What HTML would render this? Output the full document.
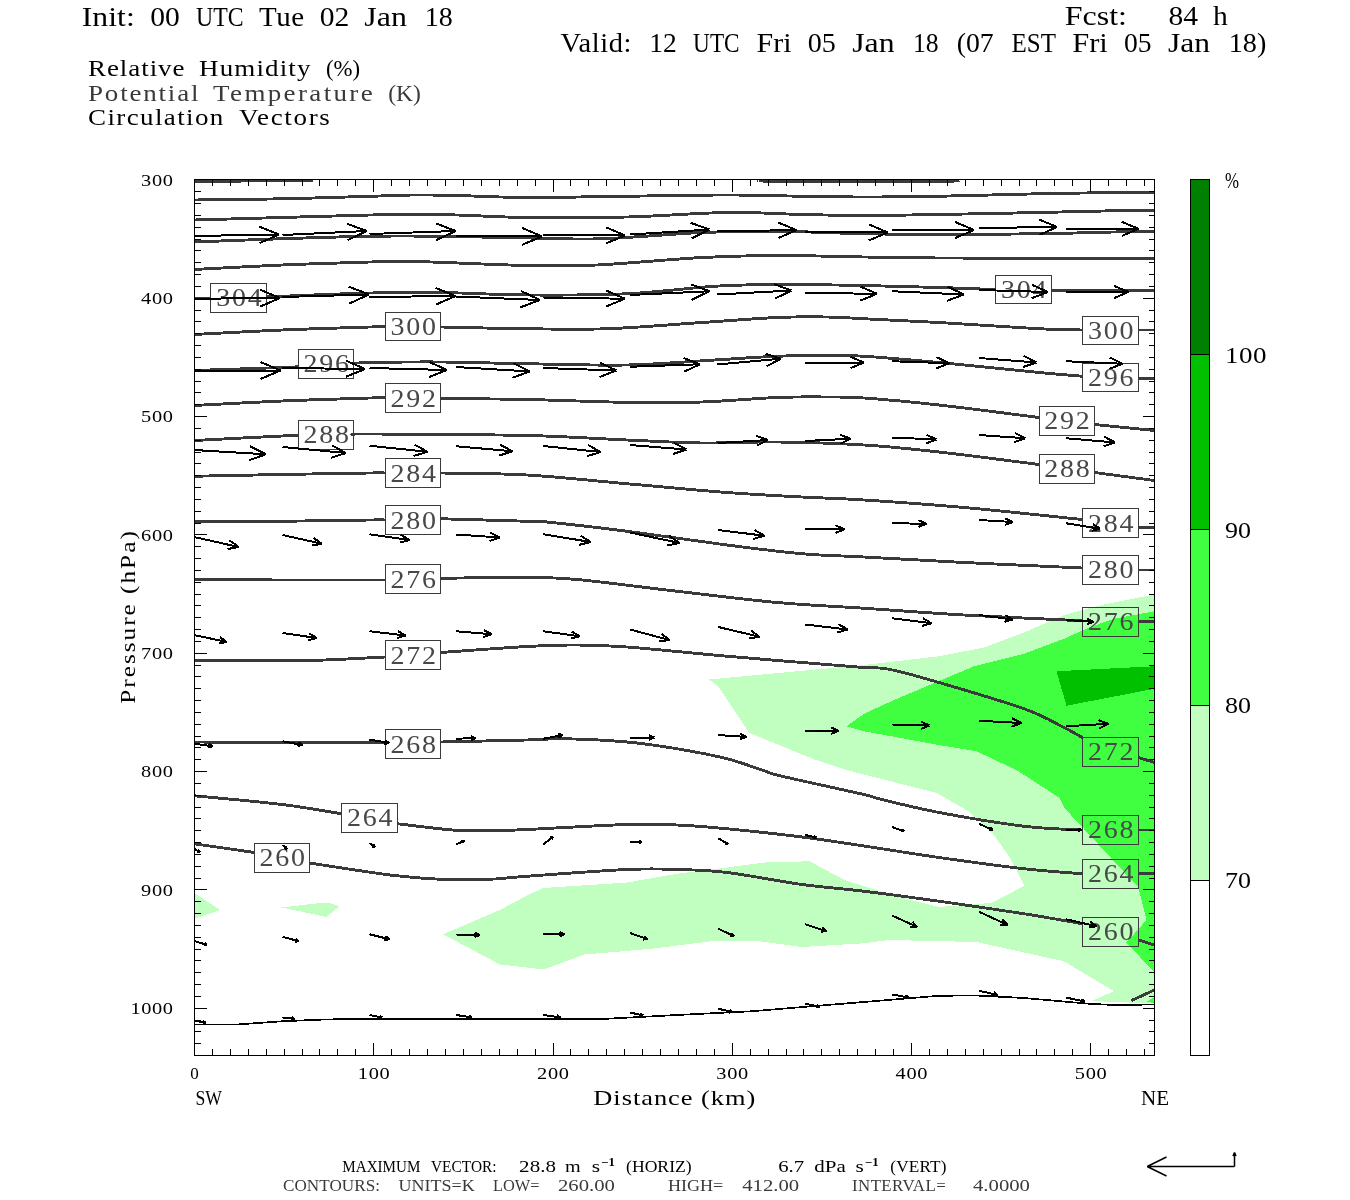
<!DOCTYPE html>
<html lang="en">
<head>
<meta charset="utf-8">
<title>Cross section: Relative Humidity, Potential Temperature, Circulation Vectors</title>
<style>
html,body{margin:0;padding:0;background:#fff;}
body{width:1350px;height:1200px;overflow:hidden;}
svg{display:block;font-family:"Liberation Serif",serif;will-change:transform;}
</style>
</head>
<body>
<svg width="1350" height="1200" viewBox="0 0 1350 1200">
<defs><clipPath id="pc"><rect x="194.5" y="179.5" width="960" height="875.5"/></clipPath></defs>
<rect width="1350" height="1200" fill="#fff"/>
<g clip-path="url(#pc)" shape-rendering="crispEdges">
<polygon fill="#c0ffc0" points="709,679.5 864,665 939,656.25 984,647.5 1024,632.5 1064,615 1101.5,605 1154.5,594.5 1154.5,1003.5 1091.5,1001 1114,991.25 1064,961.25 976.5,942 889,940 864,943.25 802,947 759.5,941.25 714.5,940.75 652,948.75 584.5,954.5 543.25,969.5 527,967.5 500,964.5 443,934.25 500,910 527,895.5 543.25,888 627,882.5 677,873.75 727,867.5 764.5,862.5 809.5,861.25 844.5,880 864,886.25 901.5,897.5 939,907 991.3,902.9 1024.5,885.9 1010,857.8 993,833.9 969.2,811.8 936.8,793 864,774.5 847,770 814.5,759.5 749.5,733 718.25,686.25"/>
<polygon fill="#c0ffc0" points="194,892.5 220,910 194,918.75"/>
<polygon fill="#c0ffc0" points="282,907.5 320,903 330,903 339.25,906.25 326.25,917"/>
<polygon fill="#40ff40" points="846.5,726.25 864,713.75 894,700 974,666.25 1024,653.75 1064,638.75 1089,627.5 1114,618.75 1154.5,611.25 1154.5,972.5 1126.5,942.5 1146.5,920 1138.5,887.5 1064,807.5 1059,797.5 1016.5,770 976.5,751.25 939,745 864,731.25"/>
<polygon fill="#40ff40" points="1146.5,1002 1154.5,997 1154.5,1003"/>
<polygon fill="#00c000" points="1056.5,671.25 1154.5,666.25 1154.5,688.75 1066.5,705.75"/>
</g>
<g clip-path="url(#pc)" fill="none" stroke="#3a3a3a" stroke-width="2.9" stroke-linejoin="round" shape-rendering="crispEdges">
<path d="M194 181.6C201.48 181.58 230.18 181.67 238 181.5C245.82 181.33 227.25 180.82 240 180.6C252.75 180.38 300.59 180.27 313 180.2"/>
<path d="M759.5 180.5C759.59 180.5 755.92 180.33 760 180.5C764.08 180.67 753.66 181.33 783.5 181.5C813.34 181.67 905.58 181.67 935.5 181.5C965.42 181.33 955.42 180.67 959.5 180.5"/>
<path d="M194 200C208.96 199.8 252.08 199.43 282 198.8C311.92 198.17 347.39 196.95 370 196.3C392.61 195.65 400.21 195.14 415 195C429.79 194.86 437.96 195.07 457 195.5C476.04 195.93 498.1 197.37 527 197.5C555.9 197.63 593 196.68 627 196.25C661 195.82 697.25 195 727 195C756.75 195 778.71 195.91 802 196.25C825.29 196.59 840.71 197 864 197C887.29 197 909.25 196.8 939 196.25C968.75 195.7 1009.25 194.39 1039 193.75C1068.75 193.11 1094.37 192.71 1114 192.5C1133.63 192.29 1147.62 192.5 1154.5 192.5"/>
<path d="M194 220C208.96 219.57 252.08 218.35 282 217.5C311.92 216.65 347.39 215.51 370 215C392.61 214.49 400.21 214.5 415 214.5C429.79 214.5 437.96 214.49 457 215C476.04 215.51 498.1 217.16 527 217.5C555.9 217.84 593 217.85 627 217C661 216.15 697.25 212.93 727 212.5C756.75 212.07 778.71 213.99 802 214.5C825.29 215.01 840.71 215.5 864 215.5C887.29 215.5 909.25 215.01 939 214.5C968.75 213.99 1009.25 213.14 1039 212.5C1068.75 211.86 1094.37 211.05 1114 210.75C1133.63 210.45 1147.62 210.75 1154.5 210.75"/>
<path d="M194 242C208.96 241.45 252.08 239.73 282 238.75C311.92 237.77 343.14 236.68 370 236.25C396.86 235.82 413.31 235.95 440 236.25C466.69 236.55 499.46 237.57 527 238C554.54 238.43 572.25 239.69 602 238.75C631.75 237.81 672.25 233.78 702 232.5C731.75 231.22 749.46 231.04 777 231.25C804.54 231.46 836.46 233.2 864 233.75C891.54 234.3 909.25 234.5 939 234.5C968.75 234.5 1009.25 234.18 1039 233.75C1068.75 233.32 1094.37 232.43 1114 232C1133.63 231.57 1147.62 231.38 1154.5 231.25"/>
<path d="M194 269.5C208.96 268.74 252.08 266.27 282 265C311.92 263.73 347.39 262.6 370 262C392.61 261.4 388.31 260.9 415 261.5C441.69 262.1 496.06 264.9 527 265.5C557.94 266.1 567.25 266.36 597 265C626.75 263.64 671.4 259.12 702 257.5C732.6 255.88 749.46 255.59 777 255.5C804.54 255.41 836.46 256.57 864 257C891.54 257.43 909.25 257.79 939 258C968.75 258.21 1002.37 258.21 1039 258.25C1075.63 258.29 1134.87 258.25 1154.5 258.25"/>
<path d="M194 298.75L210.5 298.3"/>
<path d="M266.75 296.7C269.34 296.62 264.45 296.88 282 296.25C299.55 295.62 343.14 293.64 370 293C396.86 292.36 413.31 292.16 440 292.5C466.69 292.84 495.21 294.79 527 295C558.79 295.21 595.12 295.24 627 293.75C658.88 292.26 689 287.82 714.5 286.25C740 284.68 751.59 284.63 777 284.5C802.41 284.37 836.46 284.99 864 285.5C891.54 286.01 916.69 286.82 939 287.5C961.31 288.18 985.69 289.16 995.25 289.5"/>
<path d="M1051.5 290.5L1154.5 290.75"/>
<path d="M194 334.5C208.96 333.74 252.08 331.27 282 330C311.92 328.73 352.49 327.54 370 327C387.51 326.46 382.45 326.83 385 326.8"/>
<path d="M440.75 327C455.41 327.3 498.74 328.45 527 328.75C555.26 329.05 577.25 329.81 607 328.75C636.75 327.69 673.1 324.41 702 322.5C730.9 320.59 755.75 318.44 777 317.5C798.25 316.56 812.21 316.79 827 317C841.79 317.21 844.96 317.81 864 318.75C883.04 319.69 909.25 320.8 939 322.5C968.75 324.2 1014.65 327.48 1039 328.75C1063.35 330.02 1074.9 329.79 1082.25 330"/>
<path d="M1138.5 330L1154.5 330"/>
<path d="M194 370.5C208.96 369.99 264.32 368.13 282 367.5C299.68 366.87 295.28 366.92 298 366.8"/>
<path d="M353.75 363.5C356.51 363.33 355.34 362.75 370 362.5C384.66 362.25 413.31 361.79 440 362C466.69 362.21 495.21 363.24 527 363.75C558.79 364.26 595.12 365.64 627 365C658.88 364.36 689 361.49 714.5 360C740 358.51 757.88 357.01 777 356.25C796.12 355.49 812.21 355.5 827 355.5C841.79 355.5 844.96 355.06 864 356.25C883.04 357.44 909.25 359.74 939 362.5C968.75 365.26 1014.65 370.16 1039 372.5C1063.35 374.84 1074.9 375.61 1082.25 376.25"/>
<path d="M1138.5 378.75L1154.5 378.75"/>
<path d="M194 405.5C208.96 404.74 252.08 402.27 282 401C311.92 399.73 352.49 398.54 370 398C387.51 397.46 382.45 397.83 385 397.8"/>
<path d="M440.75 398.5C455.41 398.67 494.49 398.82 527 399.5C559.51 400.18 602.25 402.07 632 402.5C661.75 402.93 677.35 402.85 702 402C726.65 401.15 755.75 398.35 777 397.5C798.25 396.65 812.21 396.92 827 397C841.79 397.08 844.96 396.64 864 398C883.04 399.36 909.25 401.69 939 405C968.75 408.31 1022 415.38 1039 417.5"/>
<path d="M1094.5 424.5L1154.5 430.5"/>
<path d="M194 440.5C208.96 439.74 264.32 436.85 282 436C299.68 435.15 295.28 435.58 298 435.5"/>
<path d="M353.75 434.5C356.51 434.42 340.55 433.83 370 434C399.45 434.17 483.31 434.48 527 435.5C570.69 436.52 597.25 438.73 627 440C656.75 441.27 676.5 442.66 702 443C727.5 443.34 749.46 441.66 777 442C804.54 442.34 836.46 443.3 864 445C891.54 446.7 909.25 448.69 939 452C968.75 455.31 1022 462.38 1039 464.5"/>
<path d="M1094.5 472.5L1154.5 480.5"/>
<path d="M194 476.25C208.96 475.95 252.08 475.05 282 474.5C311.92 473.95 352.49 473.25 370 473C387.51 472.75 382.45 473 385 473"/>
<path d="M441 473C455.62 473.34 495.38 473.17 527 475C558.62 476.83 593 480.77 627 483.75C661 486.73 697.25 490.25 727 492.5C756.75 494.75 778.71 495.73 802 497C825.29 498.27 836.46 498.21 864 500C891.54 501.79 926.9 504.19 964 507.5C1001.1 510.81 1062.15 517.46 1082.25 519.5"/>
<path d="M1138.5 527.5L1154.5 527.5"/>
<path d="M194 521.75C208.96 521.66 252.08 521.55 282 521.25C311.92 520.95 352.49 520.21 370 520C387.51 519.79 382.45 520 385 520"/>
<path d="M440.75 518.75C455.41 519.17 508.94 520.7 527 521.25C545.06 521.8 530 520.3 547 522C564 523.7 596.4 527.34 627 531.25C657.6 535.16 697.25 541.17 727 545C756.75 548.83 778.71 551.71 802 553.75C825.29 555.79 836.46 555.51 864 557C891.54 558.49 926.9 560.63 964 562.5C1001.1 564.37 1062.15 567.07 1082.25 568"/>
<path d="M1138.5 570L1154.5 570"/>
<path d="M194 579.5C208.96 579.59 249.53 579.91 282 580C314.47 580.09 367.49 580 385 580"/>
<path d="M440.75 578.25C455.41 578.12 503.84 577.29 527 577.5C550.16 577.71 551.5 577.16 577 579.5C602.5 581.84 643 587.34 677 591.25C711 595.16 745.21 599.61 777 602.5C808.79 605.39 832.21 606.12 864 608.25C895.79 610.38 926.9 612.88 964 615C1001.1 617.12 1062.15 619.77 1082.25 620.75"/>
<path d="M1138.5 621.25L1154.5 621.25"/>
<path d="M194 660.5C208.96 660.5 259.73 660.59 282 660.5C304.27 660.41 307.49 660.6 325 660C342.51 659.4 374.8 657.51 385 657"/>
<path d="M440.75 652.5C455.41 651.48 503.84 647.77 527 646.5C550.16 645.23 560 644.91 577 645C594 645.09 601.5 645.09 627 647C652.5 648.91 697.25 653.62 727 656.25C756.75 658.88 778.71 660.59 802 662.5C825.29 664.41 849.21 666.35 864 667.5C878.79 668.65 876.25 666.7 889 669.25C901.75 671.8 916.05 675.78 939 682.5C961.95 689.22 1002.75 701.1 1024 708.75C1045.25 716.4 1054.1 722.61 1064 727.5C1073.9 732.39 1079.15 735.8 1082.25 737.5"/>
<path d="M1138.5 757.5L1154.5 762.5"/>
<path d="M194 742C208.96 742.09 249.53 742.41 282 742.5C314.47 742.59 367.49 742.5 385 742.5"/>
<path d="M440.75 742C455.41 741.66 505.96 740.55 527 740C548.04 739.45 547.5 738.41 564.5 738.75C581.5 739.09 607.88 740.3 627 742C646.12 743.7 660 745.9 677 748.75C694 751.6 712.55 755.14 727 758.75C741.45 762.36 752.65 767.02 762 770C771.35 772.98 764.66 772.09 782 776.25C799.34 780.41 847.51 790.67 864 794.5C880.49 798.33 866.25 795.69 879 798.75C891.75 801.81 914.35 807.83 939 812.5C963.65 817.17 999.65 823.27 1024 826.25C1048.35 829.23 1072.35 829.36 1082.25 830"/>
<path d="M1138.5 830L1154.5 830"/>
<path d="M194 795.75C208.96 797.24 256.97 801.44 282 804.5C307.03 807.56 331.18 812.18 341.25 813.75"/>
<path d="M397.5 823.75C406.85 824.81 436.77 828.81 452.5 830C468.23 831.19 477.33 830.84 490 830.75C502.67 830.66 503.71 830.56 527 829.5C550.29 828.44 601.5 825.26 627 824.5C652.5 823.74 660 824.28 677 825C694 825.72 705.75 826.71 727 828.75C748.25 830.79 778.71 834.07 802 837C825.29 839.93 840.71 842.51 864 846C887.29 849.49 911.8 853.63 939 857.5C966.2 861.37 999.65 865.99 1024 868.75C1048.35 871.51 1072.35 872.9 1082.25 873.75"/>
<path d="M1138.5 873.75L1154.5 873.75"/>
<path d="M194 843.75L254.5 852.5"/>
<path d="M309.5 863C323.19 865.04 367.81 872.24 390 875C412.19 877.76 423 878.53 440 879.25C457 879.97 475.21 879.76 490 879.25C504.79 878.74 503.71 877.91 527 876.25C550.29 874.59 601.5 870.65 627 869.5C652.5 868.35 660 868.99 677 869.5C694 870.01 705.75 869.95 727 872.5C748.25 875.05 778.71 881.31 802 884.5C825.29 887.69 840.71 888.4 864 891.25C887.29 894.1 911.8 897.42 939 901.25C966.2 905.08 999.65 909.92 1024 913.75C1048.35 917.58 1072.35 922.05 1082.25 923.75"/>
<path d="M1138.5 940L1154.5 945"/>
<path d="M1131.5 1000.5L1154.5 990"/>
</g>
<polyline clip-path="url(#pc)" fill="none" stroke="#000" stroke-width="1.7" shape-rendering="crispEdges" points="194,1024.5 237.5,1024.5 282.5,1021.25 325,1019.5 370,1018.75 527,1019.25 607,1018.75 677,1015 752,1011.25 827,1005 864,1002 939,995.75 976.5,995.5 1024,998 1089,1003.75 1114,1005 1154.5,1004.5"/>
<g font-size="25" fill="#484848" text-anchor="middle">
<rect x="210.5" y="283.5" width="56" height="29" fill="none" stroke="#3a3a3a" stroke-width="1" shape-rendering="crispEdges"/>
<text transform="translate(238.93 306.38) scale(1.12 1)" textLength="40.6" lengthAdjust="spacing">304</text>
<rect x="995.5" y="275.5" width="56" height="28" fill="none" stroke="#3a3a3a" stroke-width="1" shape-rendering="crispEdges"/>
<text transform="translate(1023.67 298) scale(1.12 1)" textLength="40.6" lengthAdjust="spacing">304</text>
<rect x="385.5" y="312.5" width="55" height="28" fill="none" stroke="#3a3a3a" stroke-width="1" shape-rendering="crispEdges"/>
<text transform="translate(413.18 335.12) scale(1.12 1)" textLength="40.6" lengthAdjust="spacing">300</text>
<rect x="1082.5" y="316.5" width="56" height="28" fill="none" stroke="#3a3a3a" stroke-width="1" shape-rendering="crispEdges"/>
<text transform="translate(1110.67 338.75) scale(1.12 1)" textLength="40.6" lengthAdjust="spacing">300</text>
<rect x="298.5" y="349.5" width="55" height="29" fill="none" stroke="#3a3a3a" stroke-width="1" shape-rendering="crispEdges"/>
<text transform="translate(326.18 371.75) scale(1.12 1)" textLength="40.6" lengthAdjust="spacing">296</text>
<rect x="1082.5" y="363.5" width="56" height="28" fill="none" stroke="#3a3a3a" stroke-width="1" shape-rendering="crispEdges"/>
<text transform="translate(1110.67 385.88) scale(1.12 1)" textLength="40.6" lengthAdjust="spacing">296</text>
<rect x="385.5" y="383.5" width="55" height="29" fill="none" stroke="#3a3a3a" stroke-width="1" shape-rendering="crispEdges"/>
<text transform="translate(413.18 406.5) scale(1.12 1)" textLength="40.6" lengthAdjust="spacing">292</text>
<rect x="1039.5" y="406.5" width="55" height="29" fill="none" stroke="#3a3a3a" stroke-width="1" shape-rendering="crispEdges"/>
<text transform="translate(1067.05 429.12) scale(1.12 1)" textLength="40.6" lengthAdjust="spacing">292</text>
<rect x="298.5" y="420.5" width="55" height="29" fill="none" stroke="#3a3a3a" stroke-width="1" shape-rendering="crispEdges"/>
<text transform="translate(326.18 443) scale(1.12 1)" textLength="40.6" lengthAdjust="spacing">288</text>
<rect x="1039.5" y="454.5" width="55" height="29" fill="none" stroke="#3a3a3a" stroke-width="1" shape-rendering="crispEdges"/>
<text transform="translate(1067.05 477.25) scale(1.12 1)" textLength="40.6" lengthAdjust="spacing">288</text>
<rect x="385.5" y="458.5" width="55" height="29" fill="none" stroke="#3a3a3a" stroke-width="1" shape-rendering="crispEdges"/>
<text transform="translate(413.3 481.5) scale(1.12 1)" textLength="40.6" lengthAdjust="spacing">284</text>
<rect x="1082.5" y="508.5" width="56" height="29" fill="none" stroke="#3a3a3a" stroke-width="1" shape-rendering="crispEdges"/>
<text transform="translate(1110.67 531.62) scale(1.12 1)" textLength="40.6" lengthAdjust="spacing">284</text>
<rect x="385.5" y="505.5" width="55" height="29" fill="none" stroke="#3a3a3a" stroke-width="1" shape-rendering="crispEdges"/>
<text transform="translate(413.18 528.5) scale(1.12 1)" textLength="40.6" lengthAdjust="spacing">280</text>
<rect x="1082.5" y="555.5" width="56" height="29" fill="none" stroke="#3a3a3a" stroke-width="1" shape-rendering="crispEdges"/>
<text transform="translate(1110.67 577.88) scale(1.12 1)" textLength="40.6" lengthAdjust="spacing">280</text>
<rect x="385.5" y="564.5" width="55" height="29" fill="none" stroke="#3a3a3a" stroke-width="1" shape-rendering="crispEdges"/>
<text transform="translate(413.18 587.5) scale(1.12 1)" textLength="40.6" lengthAdjust="spacing">276</text>
<rect x="1082.5" y="607.5" width="56" height="29" fill="none" stroke="#3a3a3a" stroke-width="1" shape-rendering="crispEdges"/>
<text transform="translate(1110.67 630.38) scale(1.12 1)" textLength="40.6" lengthAdjust="spacing">276</text>
<rect x="385.5" y="640.5" width="55" height="29" fill="none" stroke="#3a3a3a" stroke-width="1" shape-rendering="crispEdges"/>
<text transform="translate(413.18 663.5) scale(1.12 1)" textLength="40.6" lengthAdjust="spacing">272</text>
<rect x="1082.5" y="737.5" width="56" height="29" fill="none" stroke="#3a3a3a" stroke-width="1" shape-rendering="crispEdges"/>
<text transform="translate(1110.67 759.88) scale(1.12 1)" textLength="40.6" lengthAdjust="spacing">272</text>
<rect x="385.5" y="729.5" width="55" height="29" fill="none" stroke="#3a3a3a" stroke-width="1" shape-rendering="crispEdges"/>
<text transform="translate(413.18 752.62) scale(1.12 1)" textLength="40.6" lengthAdjust="spacing">268</text>
<rect x="1082.5" y="815.5" width="56" height="29" fill="none" stroke="#3a3a3a" stroke-width="1" shape-rendering="crispEdges"/>
<text transform="translate(1110.67 838.38) scale(1.12 1)" textLength="40.6" lengthAdjust="spacing">268</text>
<rect x="341.5" y="803.5" width="56" height="29" fill="none" stroke="#3a3a3a" stroke-width="1" shape-rendering="crispEdges"/>
<text transform="translate(369.68 826.38) scale(1.12 1)" textLength="40.6" lengthAdjust="spacing">264</text>
<rect x="1082.5" y="859.5" width="56" height="29" fill="none" stroke="#3a3a3a" stroke-width="1" shape-rendering="crispEdges"/>
<text transform="translate(1110.67 882.38) scale(1.12 1)" textLength="40.6" lengthAdjust="spacing">264</text>
<rect x="254.5" y="843.5" width="55" height="29" fill="none" stroke="#3a3a3a" stroke-width="1" shape-rendering="crispEdges"/>
<text transform="translate(282.3 866.38) scale(1.12 1)" textLength="40.6" lengthAdjust="spacing">260</text>
<rect x="1082.5" y="917.5" width="56" height="29" fill="none" stroke="#3a3a3a" stroke-width="1" shape-rendering="crispEdges"/>
<text transform="translate(1110.67 940.38) scale(1.12 1)" textLength="40.6" lengthAdjust="spacing">260</text>
</g>
<g clip-path="url(#pc)" fill="none" stroke="#000" stroke-width="2" stroke-linecap="butt" shape-rendering="crispEdges">
<path d="M194 236L279 234.5M279 234.5L259.29 226.54M279 234.5L259.59 243.15"/>
<path d="M282.5 235L366.75 231M366.75 231L346.97 223.69M366.75 231L347.75 240.15"/>
<path d="M369.5 234L455.75 231M455.75 231L435.61 223.27M455.75 231L436.19 240.12"/>
<path d="M456 236L542 236.5M542 236.5L522.26 227.98M542 236.5L522.16 244.79"/>
<path d="M543 235L625 235.5M625 235.5L606.18 227.37M625 235.5L606.08 243.39"/>
<path d="M630 234.5L709.5 229.5M709.5 229.5L690.72 222.88M709.5 229.5L691.69 238.42"/>
<path d="M717.5 231.5L796.5 230M796.5 230L778.17 222.63M796.5 230L778.47 238.06"/>
<path d="M805 232L887.75 232.5M887.75 232.5L868.76 224.3M887.75 232.5L868.66 240.47"/>
<path d="M892 230L974 230M974 230L955.13 221.99M974 230L955.13 238.01"/>
<path d="M979 228L1057.25 227M1057.25 227L1039.14 219.59M1057.25 227L1039.34 234.87"/>
<path d="M1066 229.5L1138.5 228.75M1138.5 228.75L1121.74 221.84M1138.5 228.75L1121.89 236"/>
<path d="M194 298.75L280 298M280 298L260.14 289.77M280 298L260.28 306.57"/>
<path d="M282.5 297L369 294.5M369 294.5L348.85 286.63M369 294.5L349.34 303.52"/>
<path d="M369.5 297L455.5 296M455.5 296L435.61 287.83M455.5 296L435.81 304.63"/>
<path d="M456 296.5L540 300M540 300L521.01 290.99M540 300L520.33 307.4"/>
<path d="M543 297.5L625 298.75M625 298.75L606.25 290.45M625 298.75L606.01 306.47"/>
<path d="M630 295L709.5 291.25M709.5 291.25L690.84 284.35M709.5 291.25L691.57 299.88"/>
<path d="M717.5 294.5L791.5 290.5M791.5 290.5L774.08 284.19M791.5 290.5L774.86 298.65"/>
<path d="M805 293L877 293.75M877 293.75L860.5 286.54M877 293.75L860.36 300.61"/>
<path d="M892 291.25L964 294.5M964 294.5L947.75 286.72M964 294.5L947.11 300.79"/>
<path d="M979 290L1047.75 292M1047.75 292L1032.12 284.82M1047.75 292L1031.73 298.26"/>
<path d="M1066 292L1128.5 292M1128.5 292L1114.12 285.89M1128.5 292L1114.12 298.11"/>
<path d="M194 370.5L280.5 370.5M280.5 370.5L260.59 362.05M280.5 370.5L260.59 378.95"/>
<path d="M282.5 368L365 369M365 369L346.11 360.71M365 369L345.92 376.83"/>
<path d="M369.5 368L447 370M447 370L429.36 361.97M447 370L428.97 377.11"/>
<path d="M456 367L530 371.5M530 371.5L513.41 363.24M530 371.5L512.53 377.69"/>
<path d="M543.25 368L616.5 370.5M616.5 370.5L599.89 362.77M616.5 370.5L599.4 377.08"/>
<path d="M630 366.75L700 364.25M700 364.25L683.65 357.99M700 364.25L684.14 371.66"/>
<path d="M717.5 364.5L780.75 358.75M780.75 358.75L765.63 353.89M780.75 358.75L766.76 366.25"/>
<path d="M805 362.5L864 362.5M864 362.5L850.42 356.74M864 362.5L850.42 368.26"/>
<path d="M892 361.25L949.5 363.25M949.5 363.25L936.46 357.17M949.5 363.25L936.07 368.41"/>
<path d="M979 358L1036.5 362.5M1036.5 362.5L1023.71 355.85M1036.5 362.5L1022.83 367.08"/>
<path d="M1066 361.25L1122.75 363.75M1122.75 363.75L1109.93 357.63M1122.75 363.75L1109.45 368.72"/>
<path d="M194 450L266 454.25M266 454.25L249.85 446.24M266 454.25L249.02 460.31"/>
<path d="M282.5 447L346 453M346 453L331.97 445.42M346 453L330.8 457.82"/>
<path d="M369.5 445.75L427.5 451.75M427.5 451.75L414.74 444.7M427.5 451.75L413.57 456.03"/>
<path d="M456 446.25L512.5 451.25M512.5 451.25L499.99 444.58M512.5 451.25L499.01 455.62"/>
<path d="M543.25 446L600.75 452M600.75 452L588.1 445M600.75 452L586.93 456.24"/>
<path d="M630 445L686.5 449.5M686.5 449.5L673.94 442.95M686.5 449.5L673.06 453.98"/>
<path d="M717.5 443L768 440M768 440L756.09 435.76M768 440L756.67 445.62"/>
<path d="M805 441L850.75 438.75M850.75 438.75L840 434.8M850.75 438.75L840.44 443.74"/>
<path d="M892 437.5L936.5 439.5M936.5 439.5L926.45 434.69M936.5 439.5L926.06 443.39"/>
<path d="M979 435L1025.25 438.25M1025.25 438.25L1014.92 432.98M1025.25 438.25L1014.29 442.02"/>
<path d="M1066 438.25L1115.25 442.5M1115.25 442.5L1104.33 436.71M1115.25 442.5L1103.5 446.33"/>
<path d="M194 537L238.75 547M238.75 547L229.43 540.33M238.75 547L227.48 549.07"/>
<path d="M282.5 535L321.75 543.75M321.75 543.75L313.57 537.9M321.75 543.75L311.86 545.57"/>
<path d="M369.5 534.25L409.5 540M409.5 540L400.86 534.77M409.5 540L399.73 542.58"/>
<path d="M456.25 534.5L500 537.5M500 537.5L490.23 532.54M500 537.5L489.64 541.08"/>
<path d="M543.25 534.25L590.75 542M590.75 542L580.58 535.58M590.75 542L579.06 544.86"/>
<path d="M630 532.5L679.5 543M679.5 543L669.13 535.75M679.5 543L667.08 545.42"/>
<path d="M718.25 530L764.5 535.75M764.5 535.75L754.42 529.91M764.5 535.75L753.29 538.94"/>
<path d="M805.25 528.75L844.5 529.25M844.5 529.25L835.52 525.3M844.5 529.25L835.42 532.97"/>
<path d="M892 523.25L926.5 523.75M926.5 523.75L918.61 520.26M926.5 523.75L918.51 527"/>
<path d="M979 520L1012.75 522M1012.75 522L1005.18 518.24M1012.75 522L1004.79 524.84"/>
<path d="M1066 523.25L1100.25 528.75M1100.25 528.75L1092.91 524.14M1100.25 528.75L1091.83 530.83"/>
<path d="M194 635L226.75 642M226.75 642L219.9 637.19M226.75 642L218.53 643.59"/>
<path d="M282.5 633L316.75 638M316.75 638L309.36 633.5M316.75 638L308.38 640.2"/>
<path d="M369.5 631.25L405.75 635.5M405.75 635.5L397.82 630.98M405.75 635.5L396.99 638.06"/>
<path d="M456.25 631.25L491.75 634.25M491.75 634.25L483.87 630.09M491.75 634.25L483.29 637.03"/>
<path d="M543.25 631.25L579.5 636.25M579.5 636.25L571.65 631.56M579.5 636.25L570.67 638.64"/>
<path d="M630 629.5L669.5 640M669.5 640L661.44 633.73M669.5 640L659.38 641.44"/>
<path d="M718.25 627L759.5 636.75M759.5 636.75L750.96 630.48M759.5 636.75L749.05 638.54"/>
<path d="M805.25 624.5L847.75 629.5M847.75 629.5L838.46 624.2M847.75 629.5L837.48 632.5"/>
<path d="M892 618.25L931.5 623.25M931.5 623.25L922.9 618.24M931.5 623.25L921.92 625.96"/>
<path d="M979 615L1012.75 619.5M1012.75 619.5L1005.42 615.17M1012.75 619.5L1004.54 621.76"/>
<path d="M1066 620L1093.5 621.75M1093.5 621.75L1087.34 618.66M1093.5 621.75L1087 624.03"/>
<path d="M194 743.75L212.5 746.25M212.5 746.25L208.49 743.87M212.5 746.25L208 747.48"/>
<path d="M282.5 741.25L302.5 745M302.5 745L298.26 742.18M302.5 745L297.53 746.09"/>
<path d="M369.5 739.5L389.25 743M389.25 743L385.05 740.27M389.25 743L384.36 744.12"/>
<path d="M456.25 738.75L475.5 738M475.5 738L471 736.29M475.5 738L471.14 740.05"/>
<path d="M543.25 738.75L562.75 735M562.75 735L557.9 733.96M562.75 735L558.63 737.77"/>
<path d="M630 738L654.5 737.5M654.5 737.5L648.81 735.22M654.5 737.5L648.91 740.01"/>
<path d="M718.25 735L746.5 737M746.5 737L740.19 733.78M746.5 737L739.8 739.3"/>
<path d="M805.25 730.75L838.75 730.75M838.75 730.75L831.04 727.48M838.75 730.75L831.04 734.02"/>
<path d="M892 724.5L929.5 725.5M929.5 725.5L920.97 721.61M929.5 725.5L920.77 728.93"/>
<path d="M979 720.75L1021.5 723M1021.5 723L1011.94 718.33M1021.5 723L1011.5 726.63"/>
<path d="M1066 726.25L1108.5 723.75M1108.5 723.75L1098.48 720.17M1108.5 723.75L1098.96 728.48"/>
<path d="M194 848.75L200 852M200 852L198.01 849.5M200 852L196.81 851.7"/>
<path d="M282.5 845L287 849M287 849L285.63 846.11M287 849L283.97 847.98"/>
<path d="M369.5 843.25L375 847M375 847L373.27 844.31M375 847L371.86 846.37"/>
<path d="M456.25 844.25L464.5 840.75M464.5 840.75L461.3 840.75M464.5 840.75L462.28 843.05"/>
<path d="M543.25 844.25L553.25 836.75M553.25 836.75L550.14 837.52M553.25 836.75L551.64 839.52"/>
<path d="M630 842L642 842M642 842L639.05 840.75M642 842L639.05 843.25"/>
<path d="M718.25 838.25L728.25 844.25M728.25 844.25L726.37 841.66M728.25 844.25L725.08 843.81"/>
<path d="M805.25 835L816.5 837.5M816.5 837.5L813.9 835.64M816.5 837.5L813.35 838.08"/>
<path d="M892 827L904 831.25M904 831.25L901.64 829.09M904 831.25L900.81 831.45"/>
<path d="M979 823.75L992.75 830M992.75 830L990.2 827.22M992.75 830L988.98 829.9"/>
<path d="M1066 830L1081.5 830M1081.5 830L1077.93 828.49M1081.5 830L1077.93 831.51"/>
<path d="M194 940.75L207 945M207 945L204.42 942.75M207 945L203.59 945.29"/>
<path d="M282.5 936.75L298.75 941.25M298.75 941.25L295.45 938.63M298.75 941.25L294.57 941.8"/>
<path d="M369.5 934.25L389.5 939.25M389.5 939.25L385.39 936.15M389.5 939.25L384.41 940.05"/>
<path d="M456.25 934.5L480 935M480 935L474.58 932.56M480 935L474.49 937.2"/>
<path d="M543.25 934.25L564.5 934.25M564.5 934.25L559.61 932.17M564.5 934.25L559.61 936.33"/>
<path d="M630 933L647.75 939.25M647.75 939.25L644.28 936.08M647.75 939.25L643.05 939.55"/>
<path d="M718.25 928.75L734.5 936.25M734.5 936.25L731.49 932.94M734.5 936.25L730.03 936.11"/>
<path d="M805.25 924.25L826.5 931.25M826.5 931.25L822.29 927.56M826.5 931.25L820.93 931.71"/>
<path d="M892 915.5L917.25 927M917.25 927L912.56 921.89M917.25 927L910.32 926.82"/>
<path d="M979 911.75L1007.75 925M1007.75 925L1002.43 919.14M1007.75 925L999.84 924.76"/>
<path d="M1066 919.25L1096.5 926.25M1096.5 926.25L1090.16 921.66M1096.5 926.25L1088.8 927.62"/>
<path d="M194 1020.75L205.75 1022.5M205.75 1022.5L203.02 1020.83M205.75 1022.5L202.65 1023.3"/>
<path d="M282.5 1017.5L294.5 1018.75M294.5 1018.75L291.7 1017.2M294.5 1018.75L291.44 1019.69"/>
<path d="M369.5 1015L382.5 1017.5M382.5 1017.5L379.75 1015.65M382.5 1017.5L379.26 1018.19"/>
<path d="M456.25 1015L472 1017.5M472 1017.5L468.62 1015.39M472 1017.5L468.13 1018.46"/>
<path d="M543.25 1015L560.75 1017.5M560.75 1017.5L556.97 1015.22M560.75 1017.5L556.48 1018.63"/>
<path d="M630 1012.5L643.25 1015.5M643.25 1015.5L640.49 1013.52M643.25 1015.5L639.91 1016.1"/>
<path d="M718.25 1008.75L732.5 1012M732.5 1012L729.54 1009.86M732.5 1012L728.9 1012.64"/>
<path d="M805.25 1003.75L820 1006.75M820 1006.75L816.9 1004.62M820 1006.75L816.31 1007.5"/>
<path d="M892 994.5L909 997.5M909 997.5L905.38 995.15M909 997.5L904.79 998.47"/>
<path d="M979 990.75L997.75 995M997.75 995L993.85 992.19M997.75 995L993.02 995.85"/>
<path d="M1066 997.5L1085.25 1001.75M1085.25 1001.75L1081.24 998.89M1085.25 1001.75L1080.4 1002.65"/>
</g>
<path d="M194.5 179.5v12M194.5 1055v-12M212.43 179.5v6M212.43 1055v-6M230.35 179.5v6M230.35 1055v-6M248.28 179.5v6M248.28 1055v-6M266.2 179.5v6M266.2 1055v-6M284.12 179.5v6M284.12 1055v-6M302.05 179.5v6M302.05 1055v-6M319.98 179.5v6M319.98 1055v-6M337.9 179.5v6M337.9 1055v-6M355.82 179.5v6M355.82 1055v-6M373.75 179.5v12M373.75 1055v-12M391.68 179.5v6M391.68 1055v-6M409.6 179.5v6M409.6 1055v-6M427.52 179.5v6M427.52 1055v-6M445.45 179.5v6M445.45 1055v-6M463.38 179.5v6M463.38 1055v-6M481.3 179.5v6M481.3 1055v-6M499.23 179.5v6M499.23 1055v-6M517.15 179.5v6M517.15 1055v-6M535.08 179.5v6M535.08 1055v-6M553 179.5v12M553 1055v-12M570.92 179.5v6M570.92 1055v-6M588.85 179.5v6M588.85 1055v-6M606.77 179.5v6M606.77 1055v-6M624.7 179.5v6M624.7 1055v-6M642.62 179.5v6M642.62 1055v-6M660.55 179.5v6M660.55 1055v-6M678.48 179.5v6M678.48 1055v-6M696.4 179.5v6M696.4 1055v-6M714.33 179.5v6M714.33 1055v-6M732.25 179.5v12M732.25 1055v-12M750.17 179.5v6M750.17 1055v-6M768.1 179.5v6M768.1 1055v-6M786.02 179.5v6M786.02 1055v-6M803.95 179.5v6M803.95 1055v-6M821.88 179.5v6M821.88 1055v-6M839.8 179.5v6M839.8 1055v-6M857.73 179.5v6M857.73 1055v-6M875.65 179.5v6M875.65 1055v-6M893.58 179.5v6M893.58 1055v-6M911.5 179.5v12M911.5 1055v-12M929.42 179.5v6M929.42 1055v-6M947.35 179.5v6M947.35 1055v-6M965.27 179.5v6M965.27 1055v-6M983.2 179.5v6M983.2 1055v-6M1001.12 179.5v6M1001.12 1055v-6M1019.05 179.5v6M1019.05 1055v-6M1036.97 179.5v6M1036.97 1055v-6M1054.9 179.5v6M1054.9 1055v-6M1072.83 179.5v6M1072.83 1055v-6M1090.75 179.5v12M1090.75 1055v-12M1108.67 179.5v6M1108.67 1055v-6M1126.6 179.5v6M1126.6 1055v-6M1144.53 179.5v6M1144.53 1055v-6M194.5 179.85h12M1154.5 179.85h-12M194.5 191.69h6M1154.5 191.69h-6M194.5 203.52h6M1154.5 203.52h-6M194.5 215.35h6M1154.5 215.35h-6M194.5 227.19h6M1154.5 227.19h-6M194.5 239.02h6M1154.5 239.02h-6M194.5 250.86h6M1154.5 250.86h-6M194.5 262.69h6M1154.5 262.69h-6M194.5 274.53h6M1154.5 274.53h-6M194.5 286.37h6M1154.5 286.37h-6M194.5 298.2h12M1154.5 298.2h-12M194.5 310.03h6M1154.5 310.03h-6M194.5 321.87h6M1154.5 321.87h-6M194.5 333.7h6M1154.5 333.7h-6M194.5 345.54h6M1154.5 345.54h-6M194.5 357.38h6M1154.5 357.38h-6M194.5 369.21h6M1154.5 369.21h-6M194.5 381.04h6M1154.5 381.04h-6M194.5 392.88h6M1154.5 392.88h-6M194.5 404.72h6M1154.5 404.72h-6M194.5 416.55h12M1154.5 416.55h-12M194.5 428.38h6M1154.5 428.38h-6M194.5 440.22h6M1154.5 440.22h-6M194.5 452.05h6M1154.5 452.05h-6M194.5 463.89h6M1154.5 463.89h-6M194.5 475.73h6M1154.5 475.73h-6M194.5 487.56h6M1154.5 487.56h-6M194.5 499.39h6M1154.5 499.39h-6M194.5 511.23h6M1154.5 511.23h-6M194.5 523.06h6M1154.5 523.06h-6M194.5 534.9h12M1154.5 534.9h-12M194.5 546.74h6M1154.5 546.74h-6M194.5 558.57h6M1154.5 558.57h-6M194.5 570.4h6M1154.5 570.4h-6M194.5 582.24h6M1154.5 582.24h-6M194.5 594.08h6M1154.5 594.08h-6M194.5 605.91h6M1154.5 605.91h-6M194.5 617.75h6M1154.5 617.75h-6M194.5 629.58h6M1154.5 629.58h-6M194.5 641.41h6M1154.5 641.41h-6M194.5 653.25h12M1154.5 653.25h-12M194.5 665.09h6M1154.5 665.09h-6M194.5 676.92h6M1154.5 676.92h-6M194.5 688.75h6M1154.5 688.75h-6M194.5 700.59h6M1154.5 700.59h-6M194.5 712.43h6M1154.5 712.43h-6M194.5 724.26h6M1154.5 724.26h-6M194.5 736.1h6M1154.5 736.1h-6M194.5 747.93h6M1154.5 747.93h-6M194.5 759.76h6M1154.5 759.76h-6M194.5 771.6h12M1154.5 771.6h-12M194.5 783.44h6M1154.5 783.44h-6M194.5 795.27h6M1154.5 795.27h-6M194.5 807.11h6M1154.5 807.11h-6M194.5 818.94h6M1154.5 818.94h-6M194.5 830.77h6M1154.5 830.77h-6M194.5 842.61h6M1154.5 842.61h-6M194.5 854.45h6M1154.5 854.45h-6M194.5 866.28h6M1154.5 866.28h-6M194.5 878.12h6M1154.5 878.12h-6M194.5 889.95h12M1154.5 889.95h-12M194.5 901.78h6M1154.5 901.78h-6M194.5 913.62h6M1154.5 913.62h-6M194.5 925.46h6M1154.5 925.46h-6M194.5 937.29h6M1154.5 937.29h-6M194.5 949.12h6M1154.5 949.12h-6M194.5 960.96h6M1154.5 960.96h-6M194.5 972.8h6M1154.5 972.8h-6M194.5 984.63h6M1154.5 984.63h-6M194.5 996.47h6M1154.5 996.47h-6M194.5 1008.3h12M1154.5 1008.3h-12M194.5 1020.13h6M1154.5 1020.13h-6M194.5 1031.97h6M1154.5 1031.97h-6M194.5 1043.81h6M1154.5 1043.81h-6M194.5 1055.64h6M1154.5 1055.64h-6" stroke="#000" stroke-width="1" fill="none" shape-rendering="crispEdges"/>
<rect x="194.5" y="179.5" width="960" height="875.5" fill="none" stroke="#000" stroke-width="1" shape-rendering="crispEdges"/>
<text transform="translate(173 185.65) scale(1.200 1)" font-size="17" text-anchor="end" fill="#000" textLength="26.67" lengthAdjust="spacing">300</text>
<text transform="translate(173 304) scale(1.200 1)" font-size="17" text-anchor="end" fill="#000" textLength="26.67" lengthAdjust="spacing">400</text>
<text transform="translate(173 422.35) scale(1.200 1)" font-size="17" text-anchor="end" fill="#000" textLength="26.67" lengthAdjust="spacing">500</text>
<text transform="translate(173 540.7) scale(1.200 1)" font-size="17" text-anchor="end" fill="#000" textLength="26.67" lengthAdjust="spacing">600</text>
<text transform="translate(173 659.05) scale(1.200 1)" font-size="17" text-anchor="end" fill="#000" textLength="26.67" lengthAdjust="spacing">700</text>
<text transform="translate(173 777.4) scale(1.200 1)" font-size="17" text-anchor="end" fill="#000" textLength="26.67" lengthAdjust="spacing">800</text>
<text transform="translate(173 895.75) scale(1.200 1)" font-size="17" text-anchor="end" fill="#000" textLength="26.67" lengthAdjust="spacing">900</text>
<text transform="translate(173 1014.1) scale(1.200 1)" font-size="17" text-anchor="end" fill="#000" textLength="35.42" lengthAdjust="spacing">1000</text>
<text x="194.5" y="1079" font-size="17" text-anchor="middle" fill="#000">0</text>
<text transform="translate(373.75 1079) scale(1.200 1)" font-size="17" text-anchor="middle" fill="#000" textLength="26.67" lengthAdjust="spacing">100</text>
<text transform="translate(553 1079) scale(1.200 1)" font-size="17" text-anchor="middle" fill="#000" textLength="26.67" lengthAdjust="spacing">200</text>
<text transform="translate(732.25 1079) scale(1.200 1)" font-size="17" text-anchor="middle" fill="#000" textLength="26.67" lengthAdjust="spacing">300</text>
<text transform="translate(911.5 1079) scale(1.200 1)" font-size="17" text-anchor="middle" fill="#000" textLength="26.67" lengthAdjust="spacing">400</text>
<text transform="translate(1090.75 1079) scale(1.200 1)" font-size="17" text-anchor="middle" fill="#000" textLength="26.67" lengthAdjust="spacing">500</text>
<text transform="translate(195.5 1104.7) scale(0.803 1)" font-size="22" text-anchor="start" fill="#000" textLength="33" lengthAdjust="spacing">SW</text>
<text transform="translate(1141 1104.7) scale(0.955 1)" font-size="22" text-anchor="start" fill="#000" textLength="29.33" lengthAdjust="spacing">NE</text>
<text transform="translate(593.3 1104.7) scale(1.200 1)" font-size="22" text-anchor="start" fill="#000" textLength="135" lengthAdjust="spacing">Distance (km)</text>
<text transform="translate(134.9 703.7) rotate(-90) scale(1.15 1)" font-size="22" textLength="150" lengthAdjust="spacing">Pressure (hPa)</text>
<text transform="translate(81.8 25.6) scale(1.176 1)" font-size="27" text-anchor="start" fill="#000" textLength="45" lengthAdjust="spacing">Init:</text>
<text transform="translate(150.2 25.6) scale(1.096 1)" font-size="27" text-anchor="start" fill="#000" textLength="27" lengthAdjust="spacing">00</text>
<text transform="translate(196 25.6) scale(0.881 1)" font-size="27" text-anchor="start" fill="#000" textLength="54" lengthAdjust="spacing">UTC</text>
<text transform="translate(259.1 25.6) scale(1.074 1)" font-size="27" text-anchor="start" fill="#000" textLength="41.98" lengthAdjust="spacing">Tue</text>
<text transform="translate(319.8 25.6) scale(1.096 1)" font-size="27" text-anchor="start" fill="#000" textLength="27" lengthAdjust="spacing">02</text>
<text transform="translate(364.3 25.6) scale(1.184 1)" font-size="27" text-anchor="start" fill="#000" textLength="35.99" lengthAdjust="spacing">Jan</text>
<text transform="translate(424.7 25.6) scale(1.037 1)" font-size="27" text-anchor="start" fill="#000" textLength="27" lengthAdjust="spacing">18</text>
<text transform="translate(1064.8 25.4) scale(1.185 1)" font-size="27" text-anchor="start" fill="#000" textLength="52.51" lengthAdjust="spacing">Fcst:</text>
<text transform="translate(1168.5 25.4) scale(1.093 1)" font-size="27" text-anchor="start" fill="#000" textLength="27" lengthAdjust="spacing">84</text>
<text transform="translate(1213 25.4) scale(1.096 1)" font-size="27" text-anchor="start" fill="#000" textLength="13.5" lengthAdjust="spacing">h</text>
<text transform="translate(560.4 51.6) scale(1.054 1)" font-size="27" text-anchor="start" fill="#000" textLength="67.49" lengthAdjust="spacing">Valid:</text>
<text transform="translate(649.3 51.6) scale(1.019 1)" font-size="27" text-anchor="start" fill="#000" textLength="27" lengthAdjust="spacing">12</text>
<text transform="translate(693.1 51.6) scale(0.861 1)" font-size="27" text-anchor="start" fill="#000" textLength="54" lengthAdjust="spacing">UTC</text>
<text transform="translate(756.5 51.6) scale(1.111 1)" font-size="27" text-anchor="start" fill="#000" textLength="31.51" lengthAdjust="spacing">Fri</text>
<text transform="translate(807.8 51.6) scale(1.041 1)" font-size="27" text-anchor="start" fill="#000" textLength="27" lengthAdjust="spacing">05</text>
<text transform="translate(852.2 51.6) scale(1.178 1)" font-size="27" text-anchor="start" fill="#000" textLength="35.99" lengthAdjust="spacing">Jan</text>
<text transform="translate(913 51.6) scale(0.952 1)" font-size="27" text-anchor="start" fill="#000" textLength="27" lengthAdjust="spacing">18</text>
<text transform="translate(956.7 51.6) scale(1.028 1)" font-size="27" text-anchor="start" fill="#000" textLength="35.99" lengthAdjust="spacing">(07</text>
<text transform="translate(1011.5 51.6) scale(0.925 1)" font-size="27" text-anchor="start" fill="#000" textLength="48" lengthAdjust="spacing">EST</text>
<text transform="translate(1072.2 51.6) scale(1.130 1)" font-size="27" text-anchor="start" fill="#000" textLength="31.51" lengthAdjust="spacing">Fri</text>
<text transform="translate(1124 51.6) scale(1.022 1)" font-size="27" text-anchor="start" fill="#000" textLength="27" lengthAdjust="spacing">05</text>
<text transform="translate(1167.9 51.6) scale(1.170 1)" font-size="27" text-anchor="start" fill="#000" textLength="35.99" lengthAdjust="spacing">Jan</text>
<text transform="translate(1228.7 51.6) scale(1.045 1)" font-size="27" text-anchor="start" fill="#000" textLength="35.99" lengthAdjust="spacing">18)</text>
<text transform="translate(88 76.3) scale(1.200 1)" font-size="22.5" text-anchor="start" fill="#000" textLength="80.42" lengthAdjust="spacing">Relative</text>
<text transform="translate(199.1 76.3) scale(1.200 1)" font-size="22.5" text-anchor="start" fill="#000" textLength="92.83" lengthAdjust="spacing">Humidity</text>
<text transform="translate(326 76.3) scale(1.014 1)" font-size="22.5" text-anchor="start" fill="#000" textLength="33.73" lengthAdjust="spacing">(%)</text>
<text transform="translate(88 101.4) scale(1.200 1)" font-size="22.5" text-anchor="start" fill="#3a3a3a" textLength="92.08" lengthAdjust="spacing">Potential</text>
<text transform="translate(213.1 101.4) scale(1.200 1)" font-size="22.5" text-anchor="start" fill="#3a3a3a" textLength="133" lengthAdjust="spacing">Temperature</text>
<text transform="translate(388.2 101.4) scale(1.047 1)" font-size="22.5" text-anchor="start" fill="#3a3a3a" textLength="31.23" lengthAdjust="spacing">(K)</text>
<text transform="translate(88 125.2) scale(1.200 1)" font-size="22.5" text-anchor="start" fill="#000" textLength="112.75" lengthAdjust="spacing">Circulation</text>
<text transform="translate(238.9 125.2) scale(1.200 1)" font-size="22.5" text-anchor="start" fill="#000" textLength="75.75" lengthAdjust="spacing">Vectors</text>
<text transform="translate(342.3 1172) scale(0.863 1)" font-size="17.5" text-anchor="start" fill="#000" textLength="90.42" lengthAdjust="spacing">MAXIMUM</text>
<text transform="translate(430.9 1172) scale(0.878 1)" font-size="17.5" text-anchor="start" fill="#000" textLength="74.86" lengthAdjust="spacing">VECTOR:</text>
<text transform="translate(519.1 1172) scale(1.200 1)" font-size="17.5" text-anchor="start" fill="#000" textLength="30.83" lengthAdjust="spacing">28.8</text>
<text transform="translate(565.1 1172) scale(1.153 1)" font-size="17.5" text-anchor="start" fill="#000" textLength="13.61" lengthAdjust="spacing">m</text>
<text transform="translate(591.7 1172) scale(1.219 1)" font-size="17.5" text-anchor="start" fill="#000" textLength="6.81" lengthAdjust="spacing">s</text>
<text transform="translate(601.3 1165.8) scale(1.114 1)" font-size="11.5" text-anchor="start" fill="#000" textLength="12.3" lengthAdjust="spacing" font-weight="bold">−1</text>
<text transform="translate(626 1172) scale(1.009 1)" font-size="17.5" text-anchor="start" fill="#000" textLength="65.12" lengthAdjust="spacing">(HORIZ)</text>
<text transform="translate(778.2 1172) scale(1.189 1)" font-size="17.5" text-anchor="start" fill="#000" textLength="21.88" lengthAdjust="spacing">6.7</text>
<text transform="translate(814.2 1172) scale(1.200 1)" font-size="17.5" text-anchor="start" fill="#000" textLength="26.33" lengthAdjust="spacing">dPa</text>
<text transform="translate(855.6 1172) scale(1.219 1)" font-size="17.5" text-anchor="start" fill="#000" textLength="6.81" lengthAdjust="spacing">s</text>
<text transform="translate(864.9 1165.8) scale(1.114 1)" font-size="11.5" text-anchor="start" fill="#000" textLength="12.3" lengthAdjust="spacing" font-weight="bold">−1</text>
<text transform="translate(890.2 1172) scale(0.982 1)" font-size="17.5" text-anchor="start" fill="#000" textLength="57.34" lengthAdjust="spacing">(VERT)</text>
<text transform="translate(283 1190.5) scale(0.978 1)" font-size="17.5" text-anchor="start" fill="#3a3a3a" textLength="99.18" lengthAdjust="spacing">CONTOURS:</text>
<text transform="translate(398.5 1190.5) scale(1.029 1)" font-size="17.5" text-anchor="start" fill="#3a3a3a" textLength="74.03" lengthAdjust="spacing">UNITS=K</text>
<text transform="translate(493 1190.5) scale(0.937 1)" font-size="17.5" text-anchor="start" fill="#3a3a3a" textLength="49.71" lengthAdjust="spacing">LOW=</text>
<text transform="translate(558 1190.5) scale(1.184 1)" font-size="17.5" text-anchor="start" fill="#3a3a3a" textLength="48.12" lengthAdjust="spacing">260.00</text>
<text transform="translate(667.9 1190.5) scale(1.033 1)" font-size="17.5" text-anchor="start" fill="#3a3a3a" textLength="53.61" lengthAdjust="spacing">HIGH=</text>
<text transform="translate(742.2 1190.5) scale(1.184 1)" font-size="17.5" text-anchor="start" fill="#3a3a3a" textLength="48.12" lengthAdjust="spacing">412.00</text>
<text transform="translate(852 1190.5) scale(0.962 1)" font-size="17.5" text-anchor="start" fill="#3a3a3a" textLength="97.35" lengthAdjust="spacing">INTERVAL=</text>
<text transform="translate(973 1190.5) scale(1.184 1)" font-size="17.5" text-anchor="start" fill="#3a3a3a" textLength="48.12" lengthAdjust="spacing">4.0000</text>
<path d="M1234.5 1166.5H1147.2M1147.2 1166.5L1166.5 1157M1147.2 1166.5L1166.5 1176M1234.5 1166.5V1153.5M1234.5 1152.5l-1.5 3.5M1234.5 1152.5l1.5 3.5" fill="none" stroke="#000" stroke-width="1.5"/>
<g shape-rendering="crispEdges" stroke="#000" stroke-width="1">
<rect x="1190.5" y="179.5" width="19" height="175" fill="#008000"/>
<rect x="1190.5" y="354.5" width="19" height="175" fill="#00c000"/>
<rect x="1190.5" y="529.5" width="19" height="175.5" fill="#40ff40"/>
<rect x="1190.5" y="705" width="19" height="175" fill="#c0ffc0"/>
<rect x="1190.5" y="880" width="19" height="175" fill="#ffffff"/>
</g>
<text transform="translate(1225 362.7) scale(1.200 1)" font-size="22.5" text-anchor="start" fill="#000" textLength="34.58" lengthAdjust="spacing">100</text>
<text transform="translate(1225 537.7) scale(1.156 1)" font-size="22.5" text-anchor="start" fill="#000" textLength="22.5" lengthAdjust="spacing">90</text>
<text transform="translate(1225 713.2) scale(1.156 1)" font-size="22.5" text-anchor="start" fill="#000" textLength="22.5" lengthAdjust="spacing">80</text>
<text transform="translate(1225 888.2) scale(1.156 1)" font-size="22.5" text-anchor="start" fill="#000" textLength="22.5" lengthAdjust="spacing">70</text>
<text transform="translate(1225 187.8) scale(0.715 1)" font-size="23.5" text-anchor="start" fill="#000" textLength="19.58" lengthAdjust="spacing">%</text>
</svg>
</body>
</html>
